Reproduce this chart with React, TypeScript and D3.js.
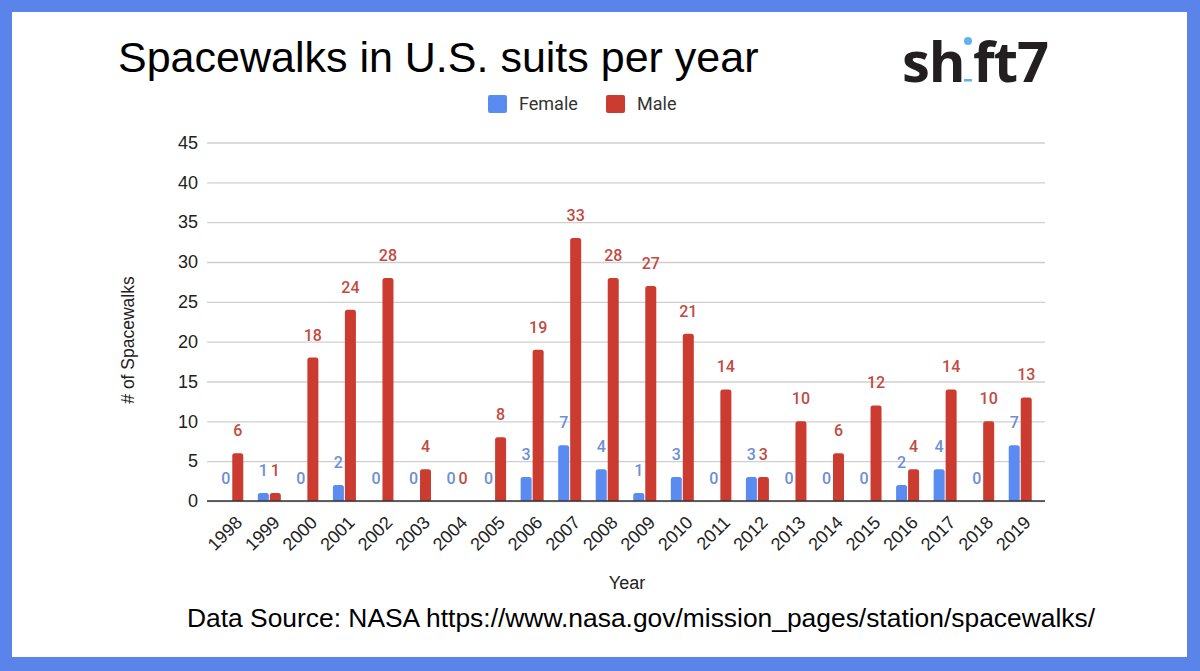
import React, {useEffect, useRef} from 'react';
import * as d3 from 'd3';

const years: string[] = ['1998', '1999', '2000', '2001', '2002', '2003', '2004', '2005', '2006', '2007', '2008',
  '2009', '2010', '2011', '2012', '2013', '2014', '2015', '2016', '2017', '2018', '2019'];
const female: number[] = [0, 1, 0, 2, 0, 0, 0, 0, 3, 7, 4, 1, 3, 0, 3, 0, 0, 0, 2, 4, 0, 7];
const male: number[] = [6, 1, 18, 24, 28, 4, 0, 8, 19, 33, 28, 27, 21, 14, 3, 10, 6, 12, 4, 14, 10, 13];
const yTicks: number[] = [0, 5, 10, 15, 20, 25, 30, 35, 40, 45];
const seriesNames: string[] = ['Female', 'Male'];

const W = 1200;
const H = 671;
const BLUE = '#5a8bf0';
const RED = '#cb3b2f';
const BLUE_TXT = '#6b8fd9';
const RED_TXT = '#c24a3f';
const SANS = 'Liberation Sans, Arial, sans-serif';

const App = () => {
  const refObject: any = useRef();

  useEffect(() => {
    const svg = d3.select(refObject.current);
    svg.selectAll('*').remove();

    // frame
    svg.append('rect').attr('x', 0).attr('y', 0).attr('width', W).attr('height', H).attr('fill', '#5b84eb');
    svg.append('rect').attr('x', 12).attr('y', 12).attr('width', W - 25).attr('height', H - 26).attr('fill', '#fff');

    // title
    svg.append('text')
      .attr('x', 118).attr('y', 72)
      .attr('font-family', SANS)
      .attr('font-size', 43)
      .attr('fill', '#000')
      .text('Spacewalks in U.S. suits per year');

    // shift7 logo
    const logo = svg.append('g').attr('font-family', 'Open Sans, sans-serif').attr('font-weight', 700)
      .attr('font-size', 56).attr('fill', '#231f20');
    logo.append('text').attr('x', 902).attr('y', 82).attr('letter-spacing', -1).text('sh');
    logo.append('text').attr('x', 973).attr('y', 82).attr('letter-spacing', -1).text('ft7');
    svg.append('circle').attr('cx', 968).attr('cy', 41).attr('r', 4).attr('fill', '#5fb4ee');
    svg.append('rect').attr('x', 964).attr('y', 79).attr('width', 8).attr('height', 2.5).attr('fill', '#5fb4ee');

    // legend
    const legend = svg.append('g').attr('font-family', 'Roboto, sans-serif').attr('font-size', 18).attr('fill', '#333');
    const legendX = [488, 606];
    seriesNames.forEach((name, i) => {
      legend.append('rect').attr('x', legendX[i]).attr('y', 95).attr('width', 19).attr('height', 18)
        .attr('rx', 2).attr('fill', i === 0 ? BLUE : RED);
      legend.append('text').attr('x', legendX[i] + 31).attr('y', 110).text(name);
    });

    const x = d3.scaleBand().domain(years).range([213, 1039]);
    const y = d3.scaleLinear().domain([0, 45]).range([501, 142.5]);

    // grid + y axis
    const yAxis = (g: any) => g
      .attr('transform', 'translate(207,0)')
      .call(d3.axisLeft(y).tickValues(yTicks).tickSize(-838).tickPadding(9))
      .call((g: any) => g.select('.domain').remove())
      .call((g: any) => g.selectAll('.tick line').attr('stroke', '#cfcfcf').attr('stroke-width', 1.3))
      .call((g: any) => g.selectAll('.tick text')
        .attr('font-family', SANS).attr('font-size', 18).attr('fill', '#222'));
    svg.append('g').call(yAxis);

    // bars
    const bw = 11;
    const gap = 1;
    const barPath = (x0: number, v: number) => {
      const y0 = y(0);
      const y1 = y(v);
      const r = Math.min(2.5, (y0 - y1) / 2);
      return `M${x0},${y0}V${y1 + r}Q${x0},${y1} ${x0 + r},${y1}H${x0 + bw - r}Q${x0 + bw},${y1} ${x0 + bw},${y1 + r}V${y0}Z`;
    };
    const center = (d: string) => (x(d) as number) + x.bandwidth() / 2;

    svg.append('g').selectAll('path')
      .data(years.map((d, i) => ({d, v: female[i]})).filter(o => o.v > 0))
      .join('path')
      .attr('d', (o: any) => barPath(center(o.d) - gap / 2 - bw, o.v))
      .attr('fill', BLUE);
    svg.append('g').selectAll('path')
      .data(years.map((d, i) => ({d, v: male[i]})).filter(o => o.v > 0))
      .join('path')
      .attr('d', (o: any) => barPath(center(o.d) + gap / 2, o.v))
      .attr('fill', RED);

    // zero line
    svg.append('line').attr('x1', 207).attr('x2', 1045).attr('y1', y(0)).attr('y2', y(0))
      .attr('stroke', '#333').attr('stroke-width', 1.5);

    // data labels
    const labels = svg.append('g').attr('font-family', 'Roboto, sans-serif').attr('font-size', 16)
      .attr('font-weight', 500).attr('text-anchor', 'middle');
    labels.selectAll('text.f')
      .data(years.map((d, i) => ({d, v: female[i]})))
      .join('text')
      .attr('class', 'f')
      .attr('x', (o: any) => center(o.d) - gap / 2 - bw / 2)
      .attr('y', (o: any) => y(o.v) - 17)
      .attr('fill', BLUE_TXT)
      .text((o: any) => o.v);
    labels.selectAll('text.m')
      .data(years.map((d, i) => ({d, v: male[i]})))
      .join('text')
      .attr('class', 'm')
      .attr('x', (o: any) => center(o.d) + gap / 2 + bw / 2)
      .attr('y', (o: any) => y(o.v) - 17)
      .attr('fill', RED_TXT)
      .text((o: any) => o.v);

    // x tick labels
    svg.append('g').attr('font-family', SANS).attr('font-size', 18).attr('fill', '#222')
      .selectAll('text')
      .data(years)
      .join('text')
      .attr('text-anchor', 'end')
      .attr('transform', (d: string) => `translate(${center(d) + 2},${514}) rotate(-45)`)
      .attr('dy', '0.75em')
      .text((d: string) => d);

    // axis titles
    svg.append('text').attr('x', 627).attr('y', 589).attr('text-anchor', 'middle')
      .attr('font-family', SANS).attr('font-size', 18).attr('fill', '#222')
      .text('Year');
    svg.append('text').attr('transform', 'translate(134,340) rotate(-90)').attr('text-anchor', 'middle')
      .attr('font-family', SANS).attr('font-size', 17.5).attr('fill', '#222')
      .text('# of Spacewalks');

    // source
    svg.append('text').attr('x', 187).attr('y', 627)
      .attr('font-family', SANS).attr('font-size', 26.4).attr('fill', '#000')
      .text('Data Source: NASA https://www.nasa.gov/mission_pages/station/spacewalks/');
  }, []);

  return (
    <div style={{position: 'absolute', left: 0, top: 0}}>
      <svg ref={refObject} width={W} height={H} style={{display: 'block'}}/>
    </div>
  );
};

export default App;
